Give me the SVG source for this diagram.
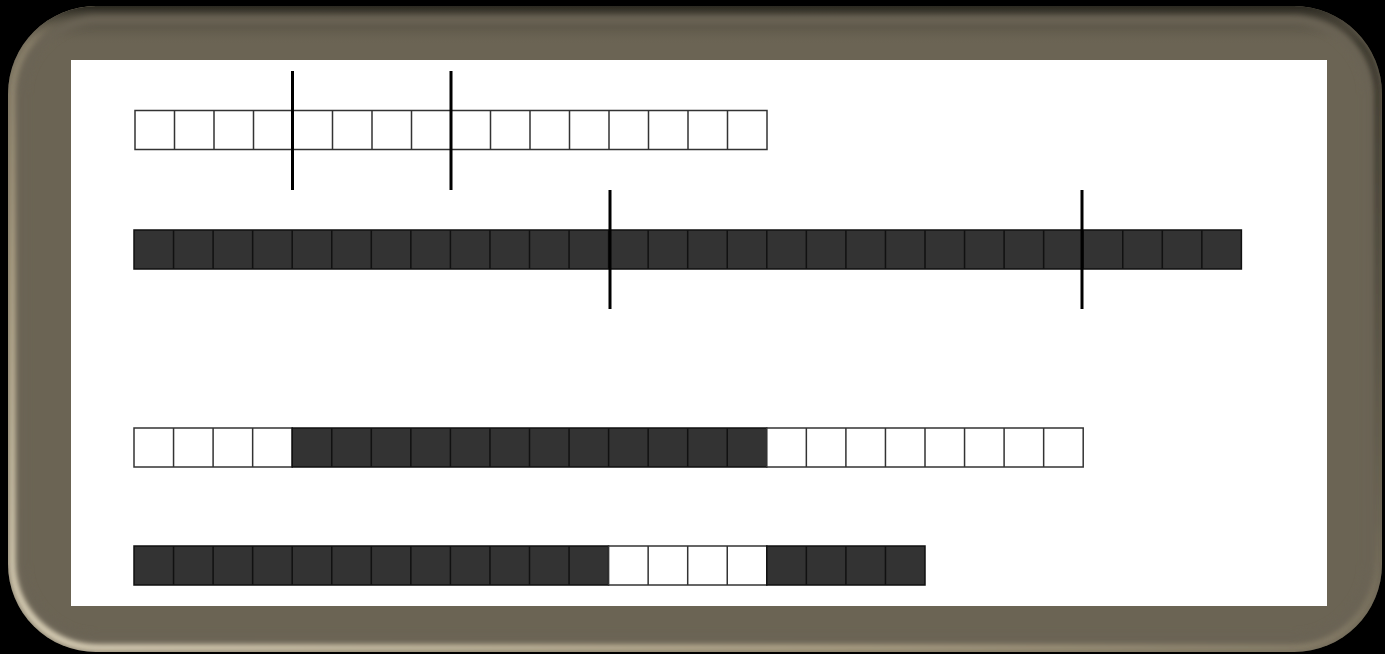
<svg xmlns="http://www.w3.org/2000/svg" width="1385" height="654" viewBox="0 0 1385 654">
<style>
.w{fill:#fff;stroke:#333;stroke-width:1.5}
.d{fill:#333;stroke:#111;stroke-width:1.5}
.gw{stroke:#333;stroke-width:1.5;fill:none}
.gd{stroke:#111;stroke-width:1.5;fill:none}
.m{stroke:#000;stroke-width:3;fill:none}
</style>
<defs>
<linearGradient id="lg" x1="0" y1="1" x2="1" y2="0">
<stop offset="0" stop-color="#f4ead0"/>
<stop offset="0.3" stop-color="#b8ab8e"/>
<stop offset="0.6" stop-color="#6b6454"/>
<stop offset="1" stop-color="#2e2b23"/>
</linearGradient>
<linearGradient id="tg" x1="0" y1="0" x2="0" y2="1">
<stop offset="0" stop-color="#2a2820"/>
<stop offset="0.06" stop-color="#6b6454" stop-opacity="0"/>
<stop offset="1" stop-color="#6b6454" stop-opacity="0"/>
</linearGradient>
<clipPath id="fc"><rect x="8" y="6" width="1374" height="646" rx="88"/></clipPath>
<filter id="bl" x="-5%" y="-5%" width="110%" height="110%"><feGaussianBlur stdDeviation="3"/></filter>
</defs>
<rect width="1385" height="654" fill="#000"/>
<g id="frame">
<rect x="8" y="6" width="1374" height="646" rx="88" fill="#6b6454"/>
<g clip-path="url(#fc)">
<rect x="13" y="11" width="1364" height="636" rx="84" fill="none" stroke="url(#lg)" stroke-width="10" filter="url(#bl)" opacity="0.85"/>
<rect x="8" y="6" width="1374" height="646" rx="88" fill="url(#tg)"/>
<rect x="22" y="20" width="1346" height="618" rx="76" fill="none" stroke="#6b6454" stroke-width="10" filter="url(#bl)"/>
</g>
<rect x="71" y="60" width="1256" height="546" fill="#fff"/>
</g>
<g id="row1">
<rect class="w" x="135" y="110.5" width="632" height="39"/>
<path class="gw" d="M174.5 110.5V149.5M214 110.5V149.5M253.5 110.5V149.5M293 110.5V149.5M332.5 110.5V149.5M372 110.5V149.5M411.5 110.5V149.5M451 110.5V149.5M490.5 110.5V149.5M530 110.5V149.5M569.5 110.5V149.5M609 110.5V149.5M648.5 110.5V149.5M688 110.5V149.5M727.5 110.5V149.5"/>
</g>
<g id="row2">
<rect class="d" x="134" y="230" width="1107.4" height="39"/>
<path class="gd" d="M173.55 230V269M213.1 230V269M252.65 230V269M292.2 230V269M331.75 230V269M371.3 230V269M410.85 230V269M450.4 230V269M489.95 230V269M529.5 230V269M569.05 230V269M608.6 230V269M648.15 230V269M687.7 230V269M727.25 230V269M766.8 230V269M806.35 230V269M845.9 230V269M885.45 230V269M925 230V269M964.55 230V269M1004.1 230V269M1043.65 230V269M1083.2 230V269M1122.75 230V269M1162.3 230V269M1201.85 230V269"/>
</g>
<g id="row3">
<rect class="w" x="134" y="428" width="158.2" height="39"/>
<rect class="d" x="292.2" y="428" width="474.6" height="39"/>
<rect class="w" x="766.8" y="428" width="316.4" height="39"/>
<path class="gw" d="M173.55 428V467M213.1 428V467M252.65 428V467M806.35 428V467M845.9 428V467M885.45 428V467M925 428V467M964.55 428V467M1004.1 428V467M1043.65 428V467"/>
<path class="gd" d="M331.75 428V467M371.3 428V467M410.85 428V467M450.4 428V467M489.95 428V467M529.5 428V467M569.05 428V467M608.6 428V467M648.15 428V467M687.7 428V467M727.25 428V467"/>
</g>
<g id="row4">
<rect class="d" x="134" y="546" width="474.6" height="39"/>
<rect class="w" x="608.6" y="546" width="158.2" height="39"/>
<rect class="d" x="766.8" y="546" width="158.2" height="39"/>
<path class="gd" d="M173.55 546V585M213.1 546V585M252.65 546V585M292.2 546V585M331.75 546V585M371.3 546V585M410.85 546V585M450.4 546V585M489.95 546V585M529.5 546V585M569.05 546V585M806.35 546V585M845.9 546V585M885.45 546V585"/>
<path class="gw" d="M648.15 546V585M687.7 546V585M727.25 546V585"/>
</g>
<g id="connectors">
<path class="m" d="M292.5 71V190M451 71V190M610 190V309M1082 190V309"/>
</g>
</svg>
